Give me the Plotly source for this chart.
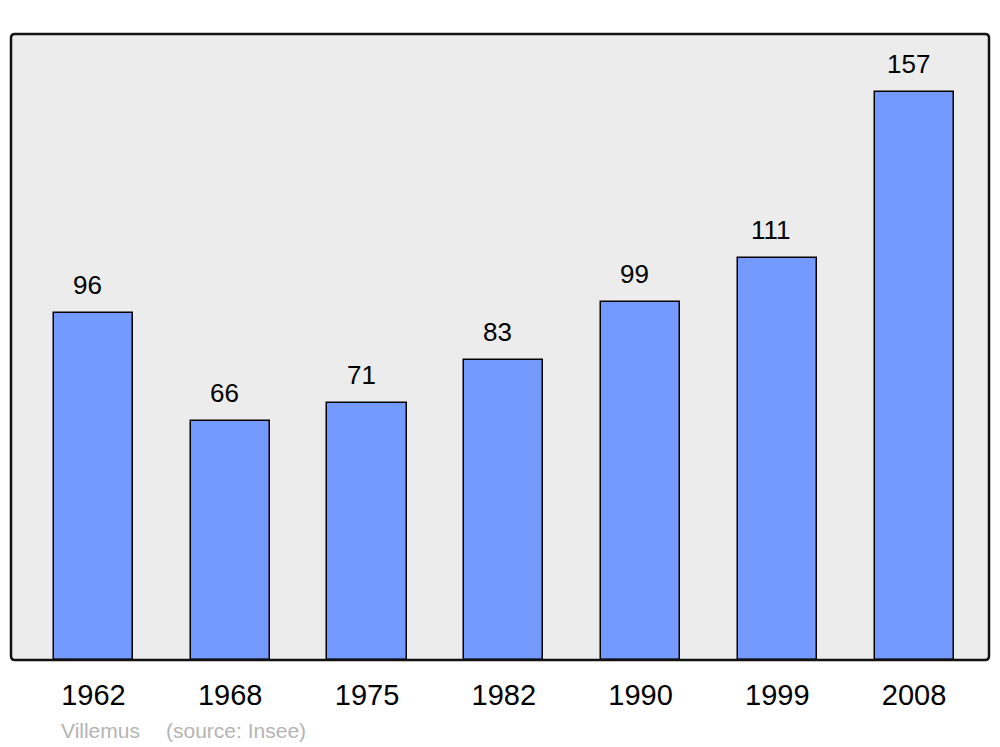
import plotly.graph_objs as go

years = ['1962', '1968', '1975', '1982', '1990', '1999', '2008']
population = [96, 66, 71, 83, 99, 111, 157]

# the page body has an 8px margin, so the figure is 8px smaller on each side
W, H = 992, 739
ml, mr, mt, mb = 3, 11, 26, 87
pw, ph = W - ml - mr, H - mt - mb

bars = go.Bar(
    x=list(range(len(years))),
    y=population,
    width=0.578,
    marker=dict(color='#7499ff', line=dict(color='black', width=1.5)),
    hovertext=years,
    hoverinfo='text+y',
)

# value labels above each bar (drawn slightly left of bar centre, as in the original)
labels = [dict(x=i, y=v, text=str(v), showarrow=False, yanchor='bottom', yshift=11, xshift=-6,
               font=dict(size=26, color='black'))
          for i, v in enumerate(population)]

# footer
foot_y = -(722 - (H - mb)) / ph
labels.append(dict(xref='paper', yref='paper', x=(51 - ml) / pw, y=foot_y,
                   xanchor='left', yanchor='middle', showarrow=False,
                   text='Villemus', font=dict(size=21, color='#b4b4b4')))
labels.append(dict(xref='paper', yref='paper', x=(156 - ml) / pw, y=foot_y,
                   xanchor='left', yanchor='middle', showarrow=False,
                   text='(source: Insee)', font=dict(size=21, color='#b4b4b4')))

# rounded frame around the plot area
r = 4
rx, ry = r / pw, r / ph
frame = ('M {a},0 L {b},0 Q 1,0 1,{c} L 1,{d} Q 1,1 {b},1 L {a},1 Q 0,1 0,{d} L 0,{c} Q 0,0 {a},0 Z'
         .format(a=rx, b=1 - rx, c=ry, d=1 - ry))

layout = go.Layout(
    width=W, height=H,
    margin=dict(l=ml, r=mr, t=mt, b=mb),
    paper_bgcolor='white',
    plot_bgcolor='#ececec',
    font=dict(family='Liberation Sans, Arial, sans-serif', color='black'),
    xaxis=dict(range=[-0.603, 6.548], showgrid=False, zeroline=False,
               tickmode='array', tickvals=list(range(len(years))), ticktext=years,
               showline=False, ticks='outside', ticklen=9, tickcolor='rgba(0,0,0,0)',
               tickfont=dict(size=29)),
    yaxis=dict(range=[0, 173], showgrid=False, zeroline=False, showticklabels=False,
               showline=False),
    shapes=[dict(type='path', xref='paper', yref='paper', path=frame,
                 line=dict(color='#111111', width=2.5), layer='above')],
    annotations=labels,
    showlegend=False,
    bargap=0,
)

fig = go.Figure(data=[bars], layout=layout)
fig.write_html("out.html")
